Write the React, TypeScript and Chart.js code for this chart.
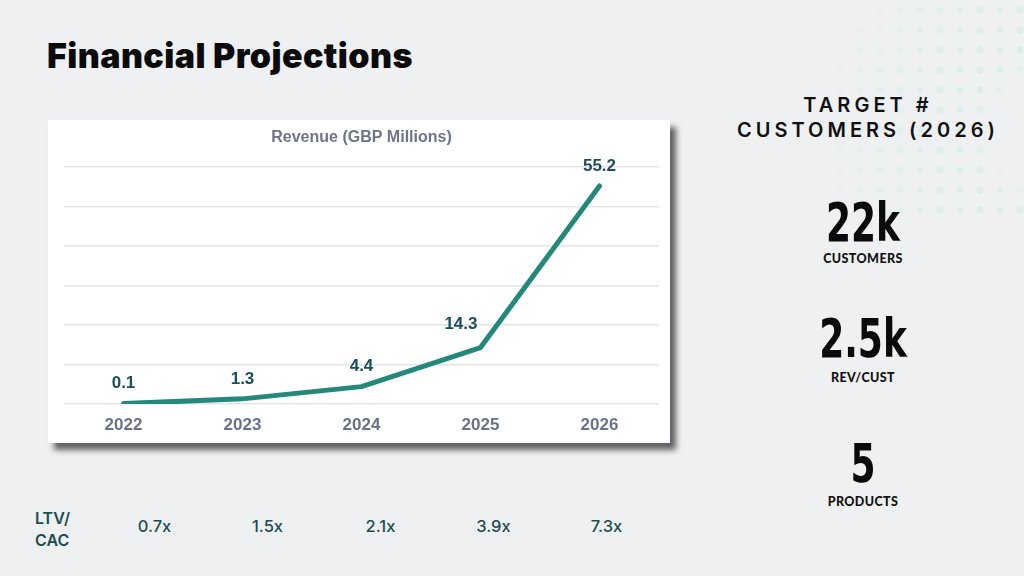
import React, { useEffect, useRef } from "react";
import { Chart, registerables } from "chart.js";

Chart.register(...registerables);

const years = ["2022", "2023", "2024", "2025", "2026"];
const revenue = [0.1, 1.3, 4.4, 14.3, 55.2];
const yTicks = { min: 0, max: 60, step: 10 };
const ltvCac = ["0.7x", "1.5x", "2.1x", "3.9x", "7.3x"];
const statValues = ["22k", "2.5k", "5"];
const statLabels = ["CUSTOMERS", "REV/CUST", "PRODUCTS"];

const TEAL = "#24887b";
const LABEL = "#1c4e5a";
const GREY = "#6b7186";
const BG = "#eef0f2";

const dataLabelPlugin = {
  id: "dataLabels",
  afterDatasetsDraw(chart: any) {
    const ctx = chart.ctx;
    const meta = chart.getDatasetMeta(0);
    const ds = chart.data.datasets[0];
    ctx.save();
    ctx.font = "bold 17px 'Liberation Sans', Arial, sans-serif";
    ctx.fillStyle = LABEL;
    ctx.textAlign = "center";
    ctx.textBaseline = "middle";
    meta.data.forEach((pt: any, i: number) => {
      const text = String(ds.data[i]);
      const w = ctx.measureText(text).width;
      let x = pt.x;
      let y = pt.y - 20;
      const next = meta.data[i + 1];
      if (next) {
        const slope = (pt.y - next.y) / (next.x - pt.x);
        const lineY = pt.y - slope * (w / 2);
        if (lineY < y + 9) {
          x = pt.x - w / 2 - 3;
          y = pt.y - 23;
        }
      }
      ctx.fillText(text, x, y);
    });
    ctx.restore();
  },
};

function RevenueChart() {
  const ref = useRef<HTMLCanvasElement | null>(null);
  useEffect(() => {
    if (!ref.current) return;
    const chart = new Chart(ref.current, {
      type: "line",
      data: {
        labels: years,
        datasets: [
          {
            data: revenue,
            borderColor: TEAL,
            borderWidth: 5,
            pointRadius: 0,
            tension: 0,
            borderCapStyle: "round",
            borderJoinStyle: "round",
            fill: false,
          },
        ],
      },
      options: {
        responsive: false,
        animation: false,
        layout: { padding: { left: 16, right: 11, top: 0, bottom: 0 } },
        plugins: {
          legend: { display: false },
          tooltip: { enabled: false },
          title: {
            display: true,
            text: "Revenue (GBP Millions)",
            color: "#6f7588",
            font: { family: "'Liberation Sans', Arial, sans-serif", size: 16, weight: "bold" },
            padding: { top: 8, bottom: 19.8 },
          },
        },
        scales: {
          x: {
            offset: true,
            grid: { display: false, drawTicks: false },
            border: { display: false },
            ticks: {
              color: GREY,
              padding: 11,
              font: { family: "'Liberation Sans', Arial, sans-serif", size: 17, weight: "bold" },
            },
            afterFit: (s: any) => {
              s.height = 39;
            },
          },
          y: {
            min: yTicks.min,
            max: yTicks.max,
            ticks: { display: false, stepSize: yTicks.step },
            grid: { color: "#e2e4e9", lineWidth: 1.5, drawTicks: false },
            border: { display: false },
            afterFit: (s: any) => {
              s.width = 0;
            },
          },
        },
      } as any,
      plugins: [dataLabelPlugin],
    });
    return () => chart.destroy();
  }, []);
  return <canvas ref={ref} width={622} height={323} style={{ display: "block" }} />;
}

export default function App() {
  const statTops = [196, 312, 437];
  const labelCenters = [259, 378, 502];
  const mask =
    "radial-gradient(circle at 110% 62%, transparent 0px, transparent 60px, rgba(0,0,0,0.9) 85px, rgba(0,0,0,0.55) 160px, transparent 250px)";
  return (
    <div
      style={{
        position: "absolute",
        left: 0,
        top: 0,
        width: 1024,
        height: 576,
        overflow: "hidden",
        background: BG,
        fontFamily: "Inter, 'Open Sans', sans-serif",
      }}
    >
      {/* decorative dots */}
      <div
        style={{
          position: "absolute",
          left: 730,
          top: 0,
          width: 294,
          height: 215,
          backgroundImage: "radial-gradient(circle, #d4eee5 3.2px, transparent 3.8px)",
          backgroundSize: "20px 20px",
          WebkitMaskImage: mask,
          maskImage: mask,
        }}
      />
      <div
        style={{
          position: "absolute",
          left: 47,
          top: 35,
          fontSize: 34,
          fontWeight: 900,
          color: "#0b0b0b",
          letterSpacing: 0.4,
          fontFamily: "Inter, sans-serif",
          lineHeight: "42px",
        }}
      >
        Financial Projections
      </div>

      <div
        style={{
          position: "absolute",
          left: 48,
          top: 120,
          width: 622,
          height: 323,
          background: "#ffffff",
          boxShadow: "6px 7px 6px rgba(0,0,0,0.6)",
        }}
      >
        <RevenueChart />
      </div>

      {/* right column */}
      <div
        style={{
          position: "absolute",
          left: 718,
          top: 93,
          width: 300,
          textAlign: "center",
          fontSize: 20,
          fontWeight: 600,
          letterSpacing: 4,
          lineHeight: "25px",
          color: "#111",
          fontFamily: "Inter, 'Open Sans', sans-serif",
        }}
      >
        TARGET #<br />
        CUSTOMERS (2026)
      </div>
      {statValues.map((v, i) => (
        <React.Fragment key={v}>
          <div
            style={{
              position: "absolute",
              left: 763,
              top: statTops[i],
              width: 200,
              textAlign: "center",
              fontSize: 54,
              lineHeight: "54px",
              fontWeight: 700,
              color: "#0a0a0a",
              fontFamily: "'DejaVu Sans Condensed', 'DejaVu Sans', sans-serif",
              transform: "scaleX(0.74)",
              transformOrigin: "center",
            }}
          >
            {v}
          </div>
          <div
            style={{
              position: "absolute",
              left: 763,
              top: labelCenters[i] - 8,
              width: 200,
              textAlign: "center",
              fontSize: 12.5,
              lineHeight: "16px",
              fontWeight: 900,
              letterSpacing: 0.4,
              color: "#111",
              fontFamily: "Lato, sans-serif",
            }}
          >
            {statLabels[i]}
          </div>
        </React.Fragment>
      ))}

      {/* LTV/CAC row */}
      <div
        style={{
          position: "absolute",
          left: 35,
          top: 507,
          fontSize: 16,
          fontWeight: 600,
          lineHeight: "22px",
          color: "#1d4d4f",
          fontFamily: "Inter, sans-serif",
        }}
      >
        LTV/
        <br />
        CAC
      </div>
      <div style={{ position: "absolute", left: 98, top: 515, width: 565, display: "flex" }}>
        {ltvCac.map((v) => (
          <div
            key={v}
            style={{
              flex: 1,
              textAlign: "center",
              fontSize: 16.5,
              fontWeight: 500,
              lineHeight: "22px",
              color: "#1d4d4f",
              fontFamily: "Inter, sans-serif",
            }}
          >
            {v}
          </div>
        ))}
      </div>
    </div>
  );
}
